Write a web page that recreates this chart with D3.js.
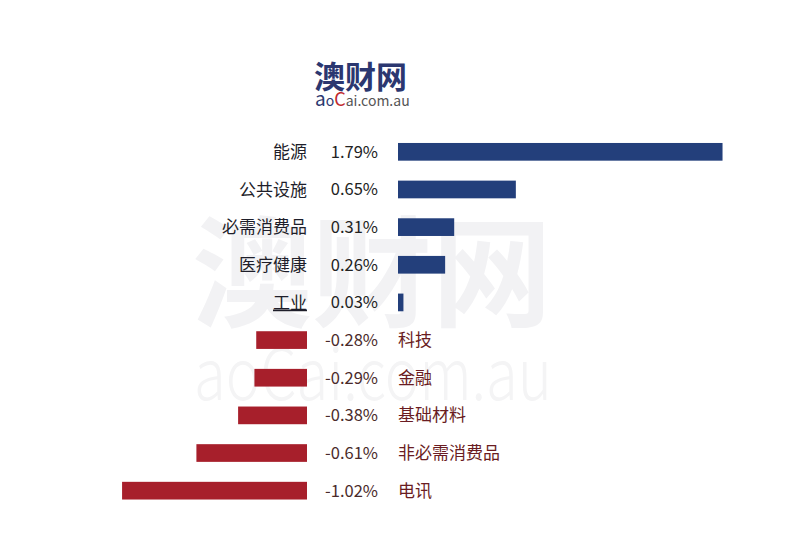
<!DOCTYPE html>
<html>
<head>
<meta charset="utf-8">
<script src="https://cdn.jsdelivr.net/npm/d3@7"></script>
<style>
  body { margin: 0; background: #fff; }
  svg text { font-family: "Noto Sans CJK SC", "Noto Sans", sans-serif; }
</style>
</head>
<body>
<script>
// sector moves, %
var sectors = ["能源", "公共设施", "必需消费品", "医疗健康", "工业", "科技", "金融", "基础材料", "非必需消费品", "电讯"];
var changes = [1.79, 0.65, 0.31, 0.26, 0.03, -0.28, -0.29, -0.38, -0.61, -1.02];
var valueLabels = ["1.79%", "0.65%", "0.31%", "0.26%", "0.03%", "-0.28%", "-0.29%", "-0.38%", "-0.61%", "-1.02%"];

var width = 800, height = 550;

var svg = d3.select("body").append("svg")
    .attr("width", width)
    .attr("height", height);

// background watermark
svg.append("text")
    .attr("x", 192).attr("y", 318)
    .attr("font-size", 120)
    .attr("font-weight", "bold")
    .attr("fill", "#f2f2f4")
    .text("澳财网");
svg.append("text")
    .attr("x", 194).attr("y", 400)
    .attr("font-size", 72)
    .attr("font-weight", 300)
    .attr("fill", "#f4f4f5")
    .attr("font-family", "Lato, sans-serif")
    .attr("textLength", 358)
    .attr("lengthAdjust", "spacingAndGlyphs")
    .text("aoCai.com.au");

// logo
svg.append("text")
    .attr("x", 314).attr("y", 88)
    .attr("font-size", 31)
    .attr("font-weight", "bold")
    .attr("fill", "#2b3770")
    .text("澳财网");
var sub = svg.append("text")
    .attr("x", 315).attr("y", 106)
    .attr("font-size", 14)
    .attr("fill", "#555")
    .attr("font-family", "'Open Sans', sans-serif");
sub.append("tspan").attr("font-size", 19).attr("fill", "#2b3770").text("a");
sub.append("tspan").attr("fill", "#2b3770").text("o");
sub.append("tspan").attr("font-size", 18).attr("fill", "#c0282e").text("C");
sub.append("tspan").text("ai.com.au");

// scales
var y = d3.scaleBand()
    .domain(sectors)
    .range([133, 509.5])
    .paddingInner(0.53)
    .paddingOuter(0.265);

var k = 181.3;
var xPos = d3.scaleLinear().domain([0, 1.79]).range([398, 398 + 1.79 * k]);
var xNeg = d3.scaleLinear().domain([-1.02, 0]).range([307 - 1.02 * k, 307]);

var data = sectors.map(function(s, i) { return {name: s, v: changes[i], label: valueLabels[i]}; });

svg.selectAll("rect.bar")
    .data(data)
  .enter().append("rect")
    .attr("class", "bar")
    .attr("x", function(d) { return d.v >= 0 ? xPos(0) : xNeg(d.v); })
    .attr("width", function(d) { return d.v >= 0 ? xPos(d.v) - xPos(0) : xNeg(0) - xNeg(d.v); })
    .attr("y", function(d) { return y(d.name); })
    .attr("height", y.bandwidth())
    .attr("fill", function(d) { return d.v >= 0 ? "#233f7b" : "#a71f2b"; });

// value labels
svg.selectAll("text.val")
    .data(data)
  .enter().append("text")
    .attr("class", "val")
    .attr("x", 378)
    .attr("y", function(d) { return y(d.name) + y.bandwidth() / 2; })
    .attr("dy", "0.36em")
    .attr("text-anchor", "end")
    .attr("font-size", 16.5)
    .attr("fill", function(d) { return d.v >= 0 ? "#222" : "#4a2a2a"; })
    .text(function(d) { return d.label; });

// category labels
svg.selectAll("text.cat")
    .data(data)
  .enter().append("text")
    .attr("class", "cat")
    .attr("x", function(d) { return d.v >= 0 ? 307 : 398; })
    .attr("y", function(d) { return y(d.name) + y.bandwidth() / 2; })
    .attr("dy", "0.36em")
    .attr("text-anchor", function(d) { return d.v >= 0 ? "end" : "start"; })
    .attr("font-size", 17)
    .attr("text-decoration", function(d) { return d.name == "工业" ? "underline" : null; })
    .attr("fill", function(d) { return d.v >= 0 ? "#1e1e2a" : "#6a1c22"; })
    .text(function(d) { return d.name; });
</script>
</body>
</html>
